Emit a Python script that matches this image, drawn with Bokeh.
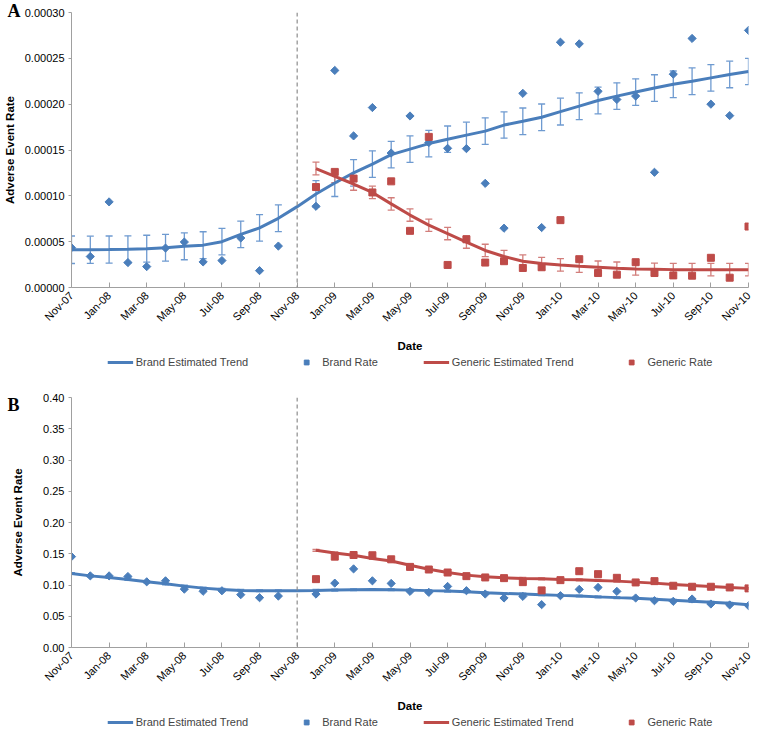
import math
from bokeh.plotting import figure
from bokeh.models import (ColumnDataSource, FixedTicker, Span, Whisker, TeeHead,
                          Legend, LegendItem, Title, Range1d, NumeralTickFormatter)
from bokeh.layouts import column
from bokeh.embed import file_html
from bokeh.resources import INLINE

nan = float("nan")

# ---------------- data ----------------
tick_labels = ["Nov-07", "Jan-08", "Mar-08", "May-08", "Jul-08", "Sep-08", "Nov-08",
               "Jan-09", "Mar-09", "May-09", "Jul-09", "Sep-09", "Nov-09", "Jan-10",
               "Mar-10", "May-10", "Jul-10", "Sep-10", "Nov-10"]
brand_months = list(range(0, 37))     # months since Nov-07
generic_months = list(range(13, 37))  # Dec-08 .. Nov-10
switch_month = 12                     # Nov-08
legend_labels = ["Brand Estimated Trend", "Brand Rate", "Generic Estimated Trend", "Generic Rate"]

# Panel A
brand_rate_a = [0.0000434, 0.0000338, 0.0000934, 0.0000272, 0.0000228, 0.0000430, 0.0000496,
                0.0000279, 0.0000294, 0.0000540, 0.0000184, 0.0000452, nan, 0.0000886,
                0.0002368, 0.0001654, 0.0001963, 0.0001467, 0.0001871, 0.0001581, 0.0001518,
                0.0001515, 0.0001136, 0.0000647, 0.0002118, 0.0000654, 0.0002676, 0.0002658,
                0.0002140, 0.0002051, 0.0002088, 0.0001257, 0.0002327, 0.0002717, 0.0002000,
                0.0001875, 0.0002805]
brand_trend_a = [0.0000412, 0.0000412, 0.0000414, 0.0000417, 0.0000423, 0.0000434, 0.0000449,
                 0.0000462, 0.0000500, 0.0000580, 0.0000650, 0.0000755, 0.0000882, 0.0001020,
                 0.0001140, 0.0001250, 0.0001346, 0.0001450, 0.0001510, 0.0001570, 0.0001618,
                 0.0001662, 0.0001706, 0.0001772, 0.0001813, 0.0001857, 0.0001919, 0.0001978,
                 0.0002040, 0.0002088, 0.0002132, 0.0002176, 0.0002217, 0.0002250, 0.0002287,
                 0.0002324, 0.0002357]
brand_err_a = [0.0000150, 0.0000148, 0.0000148, 0.0000147, 0.0000147, 0.0000146, 0.0000146,
               0.0000146, 0.0000145, 0.0000145, 0.0000145, 0.0000146, 0.0000146, 0.0000146,
               0.0000147, 0.0000145, 0.0000145, 0.0000145, 0.0000144, 0.0000144, 0.0000144,
               0.0000142, 0.0000145, 0.0000143, 0.0000145, 0.0000145, 0.0000146, 0.0000146,
               0.0000146, 0.0000145, 0.0000145, 0.0000145, 0.0000145, 0.0000145, 0.0000145,
               0.0000145, 0.0000143]
generic_rate_a = [0.0001096, 0.0001261, 0.0001188, 0.0001037, 0.0001158, 0.0000618, 0.0001643,
                  0.0000246, 0.0000526, 0.0000272, 0.0000287, 0.0000213, 0.0000221, 0.0000735,
                  0.0000309, 0.0000158, 0.0000140, 0.0000276, 0.0000158, 0.0000132, 0.0000129,
                  0.0000324, 0.0000107, 0.0000665]
generic_trend_a = [0.0001298, 0.0001213, 0.0001129, 0.0001037, 0.0000912, 0.0000790, 0.0000680,
                   0.0000588, 0.0000496, 0.0000404, 0.0000338, 0.0000287, 0.0000261, 0.0000246,
                   0.0000232, 0.0000221, 0.0000210, 0.0000202, 0.0000199, 0.0000195, 0.0000195,
                   0.0000195, 0.0000195, 0.0000195]
generic_err_a = [0.0000070, 0.0000068, 0.0000068, 0.0000068, 0.0000067, 0.0000067, 0.0000067,
                 0.0000067, 0.0000068, 0.0000068, 0.0000068, 0.0000068, 0.0000068, 0.0000068,
                 0.0000068, 0.0000068, 0.0000068, 0.0000068, 0.0000068, 0.0000068, 0.0000068,
                 0.0000068, 0.0000068, 0.0000068]
y_ticks_a = [0.0, 0.00005, 0.00010, 0.00015, 0.00020, 0.00025, 0.00030]

# Panel B
brand_rate_b = [0.1454, 0.1146, 0.1146, 0.1136, 0.1051, 0.1067, 0.0934, 0.0900, 0.0908, 0.0845,
                0.0797, 0.0823, nan, 0.0855, 0.1030, 0.1258, 0.1067, 0.1025, 0.0898, 0.0882,
                0.0977, 0.0909, 0.0856, 0.0792, 0.0818, 0.0686, 0.0829, 0.0930, 0.0961, 0.0898,
                0.0792, 0.0749, 0.0739, 0.0776, 0.0696, 0.0681, 0.0670]
brand_trend_b = [0.1184, 0.1146, 0.1120, 0.1088, 0.1051, 0.1019, 0.0982, 0.0950, 0.0929, 0.0913,
                 0.0908, 0.0908, 0.0908, 0.0913, 0.0919, 0.0924, 0.0928, 0.0925, 0.0918, 0.0910,
                 0.0903, 0.0893, 0.0875, 0.0864, 0.0855, 0.0845, 0.0834, 0.0824, 0.0810, 0.0798,
                 0.0787, 0.0771, 0.0755, 0.0739, 0.0723, 0.0707, 0.0683]
brand_err_b = [0.0015] * 37
generic_rate_b = [0.1094, 0.1454, 0.1480, 0.1476, 0.1411, 0.1290, 0.1248, 0.1200, 0.1142, 0.1121,
                  0.1110, 0.1046, 0.0914, 0.1078, 0.1221, 0.1174, 0.1115, 0.1041, 0.1062, 0.0988,
                  0.0972, 0.0972, 0.0961, 0.0946]
generic_trend_b = [0.1555, 0.1513, 0.1476, 0.1425, 0.1385, 0.1317, 0.1253, 0.1200, 0.1158, 0.1131,
                   0.1115, 0.1105, 0.1099, 0.1089, 0.1083, 0.1073, 0.1062, 0.1046, 0.1030, 0.1009,
                   0.0993, 0.0977, 0.0961, 0.0946]
generic_err_b = [0.0015] * 24
y_ticks_b = [0.00, 0.05, 0.10, 0.15, 0.20, 0.25, 0.30, 0.35, 0.40]

# ---------------- styles ----------------
BLUE = "#4A7EBB"
BLUE_ERR = "#6E9AD0"
RED = "#BE4B48"
RED_ERR = "#D27E7B"
AXIS = "#A0A0A0"
FONT = "Liberation Sans"


def style_brand_trend(p, x, y):
    return p.line(x, y, line_color=BLUE, line_width=3)


def style_brand_rate(p, x, y):
    return p.scatter(x, y, marker="square", angle=math.pi / 4, size=5.8,
                     fill_color=BLUE, line_color=BLUE)


def style_generic_trend(p, x, y):
    return p.line(x, y, line_color=RED, line_width=3)


def style_generic_rate(p, x, y):
    return p.scatter(x, y, marker="square", size=7, fill_color=RED, line_color=RED)


def make_panel(letter, b_rate, b_trend, b_err, g_rate, g_trend, g_err, y_ticks, fmt,
               height, top, ylab_standoff, letter_standoff):
    p = figure(width=755, height=height, output_backend="svg",
               toolbar_location=None, min_border_left=64, min_border_right=7,
               min_border_top=top, min_border_bottom=0,
               x_range=Range1d(0, 36), y_range=Range1d(y_ticks[0], y_ticks[-1]))
    p.outline_line_color = None
    p.xgrid.visible = False
    p.ygrid.visible = False

    # error bars (only where a rate was observed)
    bm = [m for m, r in zip(brand_months, b_rate) if not math.isnan(r)]
    bt = [t for t, r in zip(b_trend, b_rate) if not math.isnan(r)]
    be = [e for e, r in zip(b_err, b_rate) if not math.isnan(r)]
    bsrc = ColumnDataSource(dict(x=bm, lo=[t - e for t, e in zip(bt, be)],
                                 hi=[t + e for t, e in zip(bt, be)]))
    p.add_layout(Whisker(source=bsrc, base="x", lower="lo", upper="hi",
                         line_color=BLUE_ERR, line_width=1.3,
                         lower_head=TeeHead(size=7, line_color=BLUE_ERR, line_width=1.3),
                         upper_head=TeeHead(size=7, line_color=BLUE_ERR, line_width=1.3)))
    gsrc = ColumnDataSource(dict(x=generic_months,
                                 lo=[t - e for t, e in zip(g_trend, g_err)],
                                 hi=[t + e for t, e in zip(g_trend, g_err)]))
    p.add_layout(Whisker(source=gsrc, base="x", lower="lo", upper="hi",
                         line_color=RED_ERR, line_width=1.3,
                         lower_head=TeeHead(size=7, line_color=RED_ERR, line_width=1.3),
                         upper_head=TeeHead(size=7, line_color=RED_ERR, line_width=1.3)))

    # switch date
    p.add_layout(Span(location=switch_month, dimension="height", line_color="#8C8C8C",
                      line_dash="4 3", line_width=1.2))

    style_brand_trend(p, brand_months, b_trend)
    style_brand_rate(p, brand_months, b_rate)
    style_generic_trend(p, generic_months, g_trend)
    style_generic_rate(p, generic_months, g_rate)

    # axes
    p.xaxis.ticker = FixedTicker(ticks=list(range(0, 37, 2)))
    p.xaxis.major_label_overrides = {float(i * 2): lab for i, lab in enumerate(tick_labels)}
    p.xaxis.major_label_orientation = math.pi / 4
    p.xaxis.minor_tick_line_color = None
    p.xaxis.major_tick_in = 5
    p.xaxis.major_tick_out = 0
    p.xaxis.major_label_standoff = 6
    p.xaxis.axis_label = "Date"
    p.xaxis.axis_label_standoff = 9

    p.yaxis.ticker = FixedTicker(ticks=y_ticks)
    p.yaxis.formatter = NumeralTickFormatter(format=fmt)
    p.yaxis.minor_tick_line_color = None
    p.yaxis.major_tick_in = 0
    p.yaxis.major_tick_out = 3
    p.yaxis.major_label_standoff = 4
    p.yaxis.axis_label = "Adverse Event Rate"
    p.yaxis.axis_label_standoff = ylab_standoff

    for ax in (p.xaxis, p.yaxis):
        ax.axis_line_color = AXIS
        ax.major_tick_line_color = AXIS
        ax.major_label_text_font = FONT
        ax.major_label_text_font_size = "11px"
        ax.major_label_text_color = "#000000"
        ax.axis_label_text_font = FONT
        ax.axis_label_text_font_size = "11.5px"
        ax.axis_label_text_font_style = "bold"
        ax.axis_label_text_color = "#000000"

    p.add_layout(Title(text=letter, align="left", offset=-64, standoff=letter_standoff,
                       text_font="Liberation Serif", text_font_style="bold",
                       text_font_size="18px", text_color="#000000"), "above")
    return p


def make_legend(height, b_rate, b_trend, g_rate, g_trend):
    # legend strip: the series are drawn far outside this strip's visible range,
    # so only the legend (which carries their styles) shows
    lf = figure(width=755, height=height, output_backend="svg", toolbar_location=None,
                x_axis_location=None, y_axis_location=None, min_border=0,
                min_border_left=0, min_border_right=0, min_border_top=0, min_border_bottom=0,
                x_range=Range1d(0, 36), y_range=Range1d(10, 11))
    lf.outline_line_color = None
    lf.xgrid.visible = False
    lf.ygrid.visible = False
    rs = [style_brand_trend(lf, brand_months, b_trend),
          style_brand_rate(lf, brand_months, b_rate),
          style_generic_trend(lf, generic_months, g_trend),
          style_generic_rate(lf, generic_months, g_rate)]
    legend = Legend(items=[LegendItem(label=lab, renderers=[r])
                           for lab, r in zip(legend_labels, rs)],
                    orientation="horizontal", location="center", spacing=45,
                    glyph_width=26, glyph_height=12, label_standoff=3, padding=0, margin=0,
                    border_line_color=None, background_fill_alpha=0,
                    label_text_font=FONT, label_text_font_size="11px", label_height=12)
    lf.add_layout(legend, "center")
    return lf


pa = make_panel("A", brand_rate_a, brand_trend_a, brand_err_a, generic_rate_a,
                generic_trend_a, generic_err_a, y_ticks_a, "0.00000",
                height=354, top=12, ylab_standoff=6, letter_standoff=-16)
la = make_legend(16, brand_rate_a, brand_trend_a, generic_rate_a, generic_trend_a)
pb = make_panel("B", brand_rate_b, brand_trend_b, brand_err_b, generic_rate_b,
                generic_trend_b, generic_err_b, y_ticks_b, "0.00",
                height=344, top=27, ylab_standoff=16, letter_standoff=-34)
lb = make_legend(16, brand_rate_b, brand_trend_b, generic_rate_b, generic_trend_b)

layout = column(pa, la, pb, lb, spacing=0)
open("out.html", "w").write(file_html(layout, INLINE))
